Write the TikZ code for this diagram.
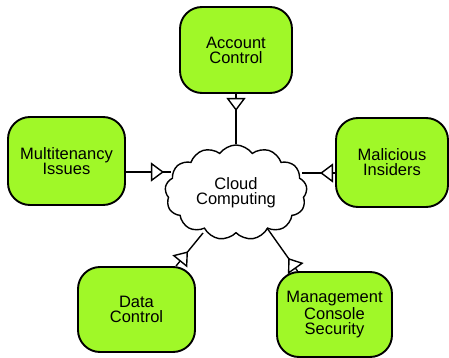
\documentclass[tikz,border=0pt]{standalone}
\usepackage{fontspec}
\setmainfont{Liberation Sans}
\usetikzlibrary{shapes.symbols,arrows.meta,decorations.markings}
\definecolor{limefill}{RGB}{160,248,40}
\begin{document}
\begin{tikzpicture}[x=1pt,y=-1pt,
  box/.style={draw=black, line width=1.9pt, fill=limefill, rounded corners=22pt,
    align=center, inner sep=2pt, font=\fontsize{16.5pt}{15pt}\selectfont},
  cloudnode/.style={cloud, cloud puffs=13, cloud puff arc=110, cloud ignores aspect,
    draw=black, line width=1.4pt, fill=white, minimum width=142pt, minimum height=95pt,
    align=center, inner sep=0pt, font=\fontsize{16.5pt}{15pt}\selectfont},
  conn/.style={draw=black, line width=1.4pt, postaction={decorate},
    decoration={markings, mark=at position #1 with {\arrow{Triangle[open,fill=white,length=13pt,width=19pt,line width=1.4pt]}}}}
]
\useasboundingbox (0,0) rectangle (449,358);

\node[cloudnode] (cloud) at (236,192.5) {Cloud\\Computing};

\node[box, minimum width=112pt, minimum height=86pt] (acc) at (236,50) {Account\\Control};
\node[box, minimum width=117pt, minimum height=88pt] (mt) at (66.5,161) {Multitenancy\\Issues};
\node[box, minimum width=112pt, minimum height=89pt] (mi) at (392,162.5) {Malicious\\Insiders};
\node[box, minimum width=117pt, minimum height=85pt] (dc) at (136.5,309.5) {Data\\Control};
\node[box, minimum width=115pt, minimum height=85pt] (mcs) at (334.5,314.5) {Management\\Console\\Security};

\coordinate (cm) at (171,172);
\coordinate (ci) at (302,173);
\coordinate (cd) at (203,233);
\coordinate (cs) at (267,228);

\draw[conn=17pt] (acc) -- (cloud);
\draw[conn=38pt] ([yshift=-11pt]mt.east) -- (cm);
\draw[conn=15pt] ([yshift=-10.5pt]mi.west) -- (ci);
\draw[conn=19pt] ([xshift=39.5pt]dc.north) -- (cd);
\draw[conn=16pt] ([xshift=-37pt]mcs.north) -- (cs);
\end{tikzpicture}
\end{document}
